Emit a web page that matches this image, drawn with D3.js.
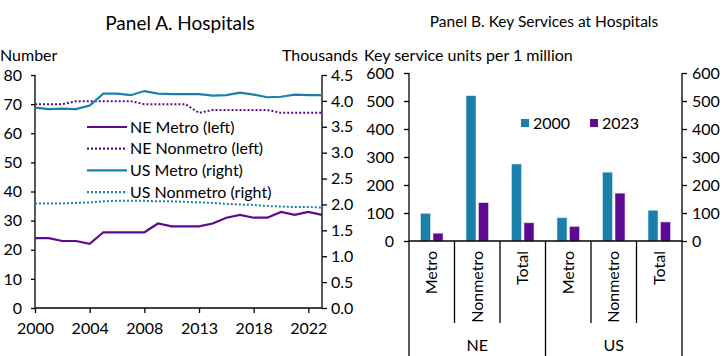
<!DOCTYPE html>
<html><head><meta charset="utf-8">
<script src="https://cdn.jsdelivr.net/npm/d3@7"></script>
<style>
body{margin:0;background:#fff;}
text{font-family:Lato,"Open Sans",sans-serif;fill:#000;}
</style></head>
<body><svg id="c" width="725" height="356"></svg>
<script>
// Panel A data (category axis, 22 points)
const years = ["2000","2001","2002","2003","2004","2005","2006","2007","2008","2010","2011","2012","2013","2014","2015","2016","2018","2019","2020","2021","2022","2023"];
const yearTickLabels = ["2000","2004","2008","2013","2018","2022"];
const neMetro = [24,24,23,23,22,26,26,26,26,29,28,28,28,29,31,32,31,31,33,32,33,32];
const neNonmetro = [70,70,70,71,71,71,71,71,70,70,70,70,67,68,68,68,68,68,67,67,67,67];
const usMetro = [3.87,3.84,3.85,3.84,3.91,4.14,4.14,4.11,4.19,4.14,4.13,4.13,4.13,4.10,4.11,4.16,4.12,4.07,4.08,4.12,4.11,4.11];
const usNonmetro = [2.02,2.02,2.02,2.03,2.04,2.06,2.07,2.07,2.07,2.06,2.06,2.05,2.04,2.03,2.01,2.00,1.99,1.97,1.96,1.95,1.95,1.94];
const leftTicksA = [0,10,20,30,40,50,60,70,80];
const rightTicksA = [0,0.5,1,1.5,2,2.5,3,3.5,4,4.5];

// Panel B data
const regions = ["NE","US"];
const areaTypes = ["Metro","Nonmetro","Total"];
const bars2000 = [99,519,275,83,246,110];
const bars2023 = [28,137,65,52,171,68];
const ticksB = [0,100,200,300,400,500,600];

const colTeal = "#1a80a9", colPurple = "#5c0a92";
const svg = d3.select("#c");

// ---------- Panel A ----------
const ax = {l:35, r:322, t:75, b:308};
const xA = d3.scalePoint().domain(years).range([ax.l, ax.r]);
const yL = d3.scaleLinear().domain([0,80]).range([ax.b, ax.t]);
const yR = d3.scaleLinear().domain([0,4.5]).range([ax.b, ax.t]);
const gA = svg.append("g");

svg.append("text").attr("x",180).attr("y",30).attr("text-anchor","middle").style("font-size","19px").text("Panel A. Hospitals");
svg.append("text").attr("x",0).attr("y",61).style("font-size","16px").text("Number");
svg.append("text").attr("x",358).attr("y",61).attr("text-anchor","end").style("font-size","16px").text("Thousands");

const leftAx = d3.axisLeft(yL).tickValues(leftTicksA).tickSize(4).tickPadding(9).tickFormat(d3.format("d"));
const gl = gA.append("g").attr("transform",`translate(${ax.l},0)`).call(leftAx);
const rightAx = d3.axisRight(yR).tickValues(rightTicksA).tickSize(5).tickPadding(4).tickFormat(d3.format(".1f"));
const gr = gA.append("g").attr("transform",`translate(${ax.r},0)`).call(rightAx);
const tickYears = years.filter((d,i)=>i%4===0);
const bottomAx = d3.axisBottom(xA).tickValues(tickYears).tickSize(5).tickPadding(10).tickFormat((d,i)=>yearTickLabels[i]);
const gb = gA.append("g").attr("transform",`translate(0,${ax.b})`).call(bottomAx);
[gl,gr,gb].forEach(g=>{
  g.select(".domain").attr("stroke","#000").attr("stroke-width",1.3);
  g.selectAll(".tick line").attr("stroke","#000").attr("stroke-width",1.3);
  g.selectAll("text").style("font-size","16px").style("font-family","Lato,sans-serif").attr("fill","#000");
});
gl.select(".domain").attr("d",`M0,${ax.t}V${ax.b}`);
gr.select(".domain").attr("d",`M0,${ax.t}V${ax.b}`);
gb.select(".domain").attr("d",`M${ax.l},0H${ax.r}`);

const lineL = d3.line().x((d,i)=>xA(years[i])).y(d=>yL(d));
const lineR = d3.line().x((d,i)=>xA(years[i])).y(d=>yR(d));
gA.append("path").datum(usNonmetro).attr("d",lineR).attr("fill","none").attr("stroke",colTeal).attr("stroke-width",2).attr("stroke-dasharray","2,2");
gA.append("path").datum(neNonmetro).attr("d",lineL).attr("fill","none").attr("stroke",colPurple).attr("stroke-width",2).attr("stroke-dasharray","2,2");
gA.append("path").datum(usMetro).attr("d",lineR).attr("fill","none").attr("stroke",colTeal).attr("stroke-width",2.2);
gA.append("path").datum(neMetro).attr("d",lineL).attr("fill","none").attr("stroke",colPurple).attr("stroke-width",2.2);

const legA = [
  {t:"NE Metro (left)", c:colPurple, dash:null},
  {t:"NE Nonmetro (left)", c:colPurple, dash:"2,2"},
  {t:"US Metro (right)", c:colTeal, dash:null},
  {t:"US Nonmetro (right)", c:colTeal, dash:"2,2"}
];
legA.forEach((d,i)=>{
  const y = 127 + i*21.7;
  gA.append("line").attr("x1",87).attr("x2",127).attr("y1",y).attr("y2",y).attr("stroke",d.c).attr("stroke-width",2.2).attr("stroke-dasharray",d.dash);
  gA.append("text").attr("x",130).attr("y",y).attr("dy","0.35em").style("font-size","16px").text(d.t);
});

// ---------- Panel B ----------
const bx = {l:409, r:682, t:73, b:241};
const cats = [];
regions.forEach(r=>areaTypes.forEach(a=>cats.push(r+"|"+a)));
const xB = d3.scaleBand().domain(cats).range([bx.l,bx.r]);
const yB = d3.scaleLinear().domain([0,600]).range([bx.b,bx.t]);
const gB = svg.append("g");
svg.append("text").attr("x",544).attr("y",27).attr("text-anchor","middle").style("font-size","15.5px").text("Panel B. Key Services at Hospitals");
svg.append("text").attr("x",364).attr("y",61).style("font-size","16px").text("Key service units per 1 million");

const glB = gB.append("g").attr("transform",`translate(${bx.l},0)`).call(d3.axisLeft(yB).tickValues(ticksB).tickSize(5).tickPadding(10));
const grB = gB.append("g").attr("transform",`translate(${bx.r},0)`).call(d3.axisRight(yB).tickValues(ticksB).tickSize(5).tickPadding(5));
[glB,grB].forEach(g=>{
  g.select(".domain").attr("stroke","#000").attr("stroke-width",1.3).attr("d",`M0,${bx.t}V${bx.b}`);
  g.selectAll(".tick line").attr("stroke","#000").attr("stroke-width",1.3);
  g.selectAll("text").style("font-size","16px").style("font-family","Lato,sans-serif").attr("fill","#000");
});

const bw = 10, gap = 2.5;
cats.forEach((c,i)=>{
  const cx = xB(c) + xB.bandwidth()/2;
  gB.append("rect").attr("x",cx-gap/2-bw).attr("y",yB(bars2000[i])).attr("width",bw).attr("height",yB(0)-yB(bars2000[i])).attr("fill",colTeal).attr("stroke","#d7ecf3").attr("stroke-width",0.6);
  gB.append("rect").attr("x",cx+gap/2).attr("y",yB(bars2023[i])).attr("width",bw).attr("height",yB(0)-yB(bars2023[i])).attr("fill",colPurple).attr("stroke","#e4d6ee").attr("stroke-width",0.6);
  gB.append("text").attr("transform",`translate(${cx},${bx.b+10}) rotate(-90)`).attr("text-anchor","end").attr("dy","0.35em").style("font-size","16px").text(c.split("|")[1]);
});
// x axis line and separators
gB.append("line").attr("x1",bx.l).attr("x2",bx.r).attr("y1",bx.b).attr("y2",bx.b).attr("stroke","#000").attr("stroke-width",1.3);
cats.forEach((c,i)=>{
  const x = xB(c);
  const major = i%3===0;
  gB.append("line").attr("x1",x).attr("x2",x).attr("y1",bx.b).attr("y2",major?356:323).attr("stroke","#000").attr("stroke-width",1.3);
});
gB.append("line").attr("x1",bx.r).attr("x2",bx.r).attr("y1",bx.b).attr("y2",356).attr("stroke","#000").attr("stroke-width",1.3);
regions.forEach((r,ri)=>{
  const x0 = xB(r+"|"+areaTypes[0]), x1 = xB(r+"|"+areaTypes[2]) + xB.bandwidth();
  gB.append("text").attr("x",(x0+x1)/2).attr("y",345).attr("dy","0.35em").attr("text-anchor","middle").style("font-size","16px").text(r);
});
// legend B
[["2000",colTeal,521],["2023",colPurple,590]].forEach(d=>{
  gB.append("rect").attr("x",d[2]).attr("y",119).attr("width",8).attr("height",8).attr("fill",d[1]);
  gB.append("text").attr("x",d[2]+12).attr("y",123).attr("dy","0.35em").style("font-size","16px").text(d[0]);
});
</script></body></html>
